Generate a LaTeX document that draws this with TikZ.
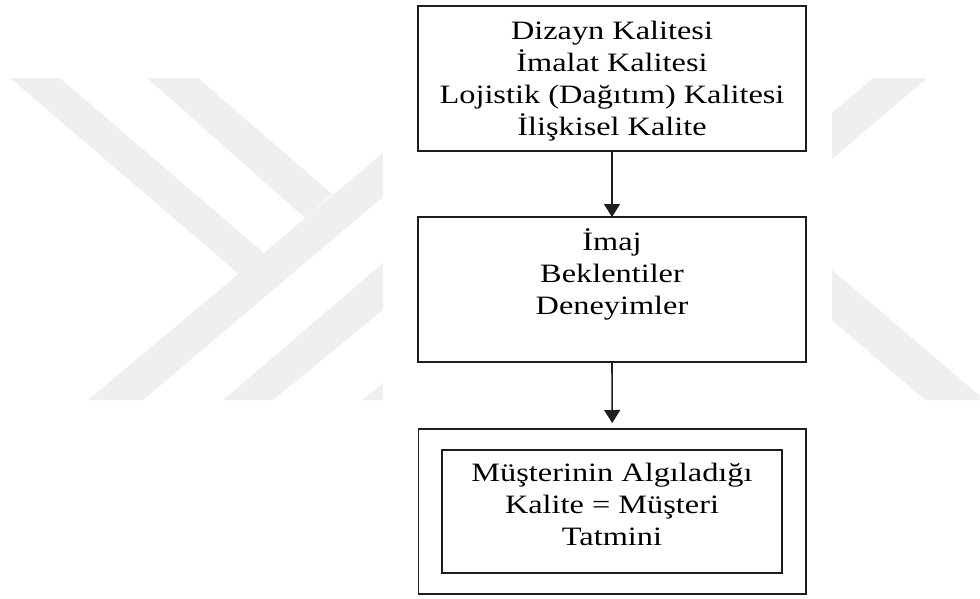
\documentclass[tikz,border=0pt]{standalone}
\usepackage{fontspec}
\setmainfont{Liberation Serif}
\usetikzlibrary{arrows.meta}
\definecolor{wm}{RGB}{239,239,239}
\definecolor{ink}{RGB}{30,30,30}
\newcommand{\widetext}[1]{\scalebox{1.22}[1]{\begin{tabular}[t]{@{}c@{}}#1\end{tabular}}}
\begin{document}
\begin{tikzpicture}[x=1pt,y=-1pt,
  frame/.style={draw=ink,line width=1.6pt,inner sep=0pt,outer sep=0pt},
  label/.style={inner sep=0pt,anchor=base,font=\fontsize{26.5}{32}\selectfont},
  flow/.style={draw=ink,line width=1.6pt,-{Triangle[width=16pt,length=13pt]}}]
\useasboundingbox (0,0) rectangle (980,598);
% faint background emblem, left part
\fill[wm] (10,78) -- (60,78) -- (264,253) -- (240,275) -- cycle;
\fill[wm] (147,78) -- (198,78) -- (332,194) -- (305,218) -- cycle;
\fill[wm] (88,400) -- (383,153) -- (383,197) -- (143,400) -- cycle;
\fill[wm] (223,400) -- (383,263) -- (383,310) -- (273,400) -- cycle;
\fill[wm] (362,400) -- (383,383) -- (383,400) -- cycle;
% faint background emblem, right part
\fill[wm] (873,78) -- (927,78) -- (832,159) -- (832,113) -- cycle;
\fill[wm] (832,270) -- (980,396) -- (980,400) -- (925,400) -- (832,320) -- cycle;
% boxes
\node[frame,minimum width=388pt,minimum height=145.3pt] (b1) at (612,78.35) {};
\node[frame,minimum width=388pt,minimum height=145pt] (b2) at (612,289.5) {};
\node[frame,minimum width=387.5pt,minimum height=165pt] (b3) at (612.25,511.5) {};
\node[frame,minimum width=340pt,minimum height=123pt] (b3in) at (612,511.5) {};
% texts
\node[label] (t1) at (612,39) {\widetext{Dizayn Kalitesi\\İmalat Kalitesi\\Lojistik (Dağıtım) Kalitesi\\İlişkisel Kalite}};
\node[label] (t2) at (612,250.7) {\widetext{İmaj\\Beklentiler\\Deneyimler}};
\node[label] (t3) at (612,481.7) {\widetext{Müşterinin Algıladığı\\Kalite = Müşteri\\Tatmini}};
% connectors
\draw[flow] (b1.south) -- (b2.north);
\draw[flow,shorten >=6pt] (b2.south) -- (b3.north);
\end{tikzpicture}
\end{document}
